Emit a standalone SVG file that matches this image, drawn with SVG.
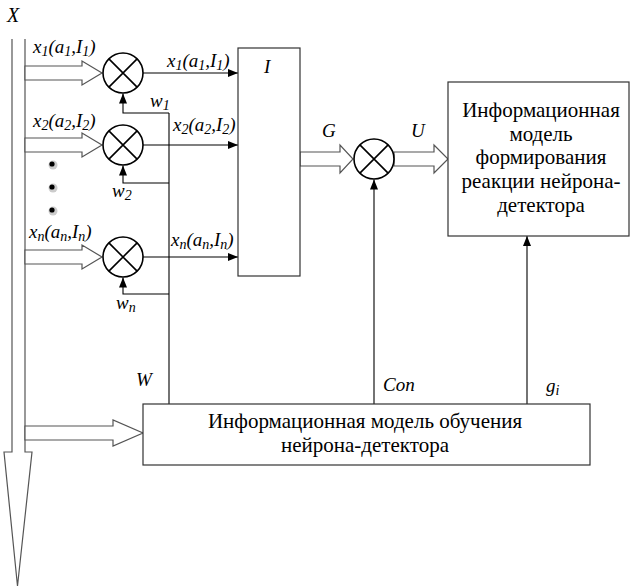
<svg xmlns="http://www.w3.org/2000/svg" width="630" height="587" viewBox="0 0 630 587">
<defs>
<marker id="ah" markerWidth="10" markerHeight="8" refX="10" refY="4" orient="auto" markerUnits="userSpaceOnUse">
<path d="M0,0 L10,4 L0,8 Z" fill="#000"/>
</marker>
<g id="mx"><circle cx="0" cy="0" r="20" fill="#fff" stroke="#000" stroke-width="1.6"/><path d="M-14.1,-14.1 L14.1,14.1 M14.1,-14.1 L-14.1,14.1" stroke="#000" stroke-width="1.6"/></g>
</defs>
<rect width="630" height="587" fill="#fff"/>

<g id="bus">
<polyline fill="none" stroke="#555" stroke-width="1.2" points="12,39 12,452 4,452 17.5,586 32,452 25,452 25,39"/>
<text x="7" y="22" font-family="Liberation Serif" font-style="italic" font-size="20">X</text>
</g>

<g id="connectors">
<g fill="#fff" stroke="#555" stroke-width="1.2">
<polygon points="25,66 82,66 82,61 102,73 82,85 82,80 25,80"/>
<polygon points="25,138 82,138 82,133 102,145 82,157 82,152 25,152"/>
<polygon points="25,250 82,250 82,245 102,257 82,269 82,264 25,264"/>
<polygon points="25,426 113,426 113,420 143,433 113,446 113,440 25,440"/>
<polygon points="300,152 340,152 340,145 353,159 340,173 340,166 300,166"/>
<polygon points="394,152 434,152 434,145 448,159 434,173 434,166 394,166"/>
</g>
<g fill="none" stroke="#000" stroke-width="1.1">
<line x1="143" y1="73" x2="238" y2="73" marker-end="url(#ah)"/>
<line x1="143" y1="145" x2="238" y2="145" marker-end="url(#ah)"/>
<line x1="143" y1="257" x2="238" y2="257" marker-end="url(#ah)"/>
<polyline points="169,113 123,113 123,93.5" marker-end="url(#ah)"/>
<polyline points="169,183 123,183 123,165.5" marker-end="url(#ah)"/>
<polyline points="169,294 123,294 123,277.5" marker-end="url(#ah)"/>
<line x1="169" y1="113" x2="169" y2="404"/>
<line x1="374" y1="404" x2="374" y2="179.5" marker-end="url(#ah)"/>
<line x1="527" y1="404" x2="527" y2="236" marker-end="url(#ah)"/>
</g>
</g>

<g id="mul1"><use href="#mx" x="123" y="73"/></g>
<g id="mul2"><use href="#mx" x="123" y="145"/></g>
<g id="muln"><use href="#mx" x="123" y="257"/></g>
<g id="mulG"><use href="#mx" x="374" y="159"/></g>

<g id="dots">
<circle cx="53" cy="165" r="4.5" fill="#ccc"/><circle cx="52" cy="164" r="2.6" fill="#000"/>
<circle cx="53" cy="188" r="4.5" fill="#ccc"/><circle cx="52" cy="187" r="2.6" fill="#000"/>
<circle cx="53" cy="211" r="4.5" fill="#ccc"/><circle cx="52" cy="210" r="2.6" fill="#000"/>
</g>

<g id="labels">
<text x="33" y="53" font-family="Liberation Serif" font-style="italic" font-size="19">x<tspan font-size="14" dy="3">1</tspan><tspan dy="-3">(a</tspan><tspan font-size="14" dy="3">1</tspan><tspan dy="-3">,I</tspan><tspan font-size="14" dy="3">1</tspan><tspan dy="-3">)</tspan></text>
<text x="167" y="67" font-family="Liberation Serif" font-style="italic" font-size="19">x<tspan font-size="14" dy="3">1</tspan><tspan dy="-3">(a</tspan><tspan font-size="14" dy="3">1</tspan><tspan dy="-3">,I</tspan><tspan font-size="14" dy="3">1</tspan><tspan dy="-3">)</tspan></text>
<text x="33" y="127" font-family="Liberation Serif" font-style="italic" font-size="19">x<tspan font-size="14" dy="3">2</tspan><tspan dy="-3">(a</tspan><tspan font-size="14" dy="3">2</tspan><tspan dy="-3">,I</tspan><tspan font-size="14" dy="3">2</tspan><tspan dy="-3">)</tspan></text>
<text x="173" y="131" font-family="Liberation Serif" font-style="italic" font-size="19">x<tspan font-size="14" dy="3">2</tspan><tspan dy="-3">(a</tspan><tspan font-size="14" dy="3">2</tspan><tspan dy="-3">,I</tspan><tspan font-size="14" dy="3">2</tspan><tspan dy="-3">)</tspan></text>
<text x="29" y="238" font-family="Liberation Serif" font-style="italic" font-size="19">x<tspan font-size="14" dy="3">n</tspan><tspan dy="-3">(a</tspan><tspan font-size="14" dy="3">n</tspan><tspan dy="-3">,I</tspan><tspan font-size="14" dy="3">n</tspan><tspan dy="-3">)</tspan></text>
<text x="171" y="246" font-family="Liberation Serif" font-style="italic" font-size="19">x<tspan font-size="14" dy="3">n</tspan><tspan dy="-3">(a</tspan><tspan font-size="14" dy="3">n</tspan><tspan dy="-3">,I</tspan><tspan font-size="14" dy="3">n</tspan><tspan dy="-3">)</tspan></text>
<text x="150" y="107" font-family="Liberation Serif" font-style="italic" font-size="19">w<tspan font-size="14" dy="3">1</tspan></text>
<text x="112" y="197" font-family="Liberation Serif" font-style="italic" font-size="19">w<tspan font-size="14" dy="3">2</tspan></text>
<text x="116" y="309" font-family="Liberation Serif" font-style="italic" font-size="19">w<tspan font-size="14" dy="3">n</tspan></text>
<text x="322" y="137" font-family="Liberation Serif" font-style="italic" font-size="19">G</text>
<text x="411" y="137" font-family="Liberation Serif" font-style="italic" font-size="19">U</text>
<text x="136" y="386" font-family="Liberation Serif" font-style="italic" font-size="19">W</text>
<text x="383" y="391" font-family="Liberation Serif" font-style="italic" font-size="19">Con</text>
<text x="546" y="392" font-family="Liberation Serif" font-style="italic" font-size="19">g<tspan font-size="14" dy="3">i</tspan></text>
</g>

<g id="blockI">
<rect x="238" y="48" width="62" height="228" fill="#fff" stroke="#333" stroke-width="1.2"/>
<text x="264" y="73" font-family="Liberation Serif" font-style="italic" font-size="19">I</text>
</g>

<g id="reaction">
<rect x="448" y="82" width="181" height="154" fill="#fff" stroke="#333" stroke-width="1.2"/>
<text x="541" y="117" font-family="Liberation Serif" font-size="21" text-anchor="middle">Информационная</text>
<text x="541" y="141" font-family="Liberation Serif" font-size="21" text-anchor="middle">модель</text>
<text x="541" y="164" font-family="Liberation Serif" font-size="21" text-anchor="middle">формирования</text>
<text x="541" y="188" font-family="Liberation Serif" font-size="21" text-anchor="middle">реакции нейрона-</text>
<text x="541" y="212" font-family="Liberation Serif" font-size="21" text-anchor="middle">детектора</text>
</g>

<g id="learning">
<rect x="143" y="404" width="447" height="61" fill="#fff" stroke="#333" stroke-width="1.2"/>
<text x="365" y="428" font-family="Liberation Serif" font-size="21" text-anchor="middle">Информационная модель обучения</text>
<text x="365" y="452" font-family="Liberation Serif" font-size="21" text-anchor="middle">нейрона-детектора</text>
</g>
</svg>
